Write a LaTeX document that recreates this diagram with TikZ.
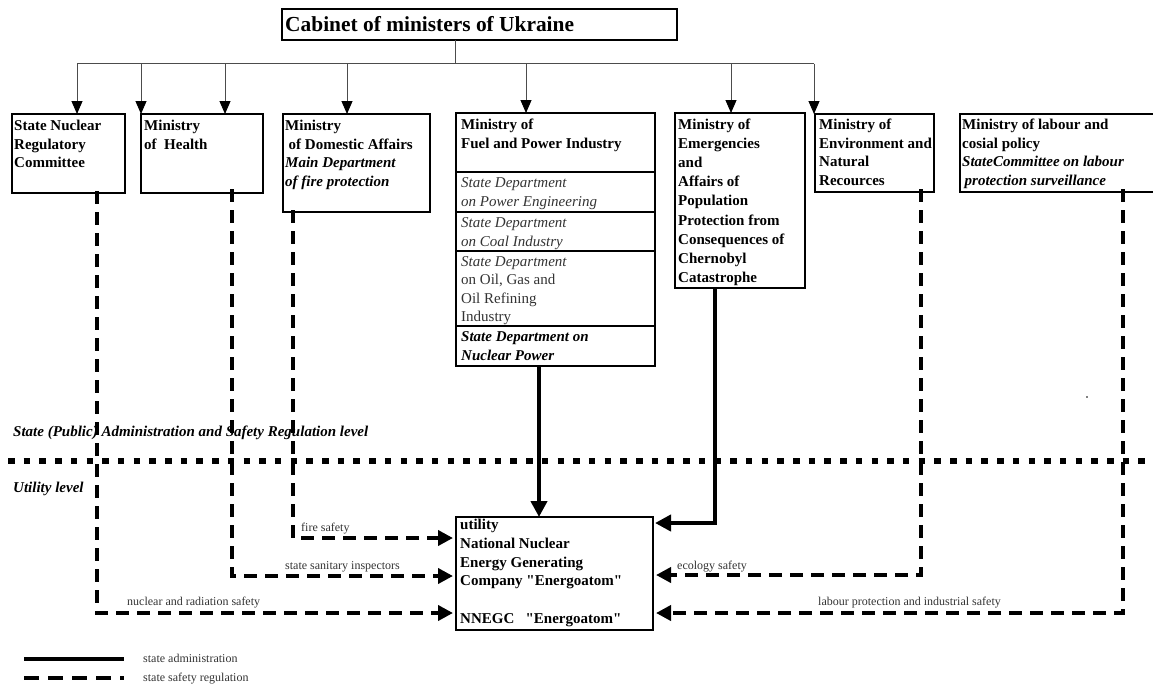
\documentclass[tikz,border=0pt]{standalone}
\usepackage{fontspec}
\setmainfont{Liberation Serif}
\newfontfamily\plainqf{Liberation Serif}
\newcommand{\sqt}{{\plainqf\char"22}}
\usetikzlibrary{arrows.meta,calc}
\begin{document}
\begin{tikzpicture}[x=1pt,y=-1pt,
  boxst/.style={draw, line width=2.5pt, anchor=north west, inner sep=0pt, outer sep=0pt},
  btext/.style={anchor=base west, inner sep=0pt, align=left, font=\fontsize{15}{18.6}\selectfont\bfseries},
  itext/.style={anchor=base west, inner sep=0pt, align=left, text=black!80, font=\fontsize{15}{19}\selectfont\itshape},
  lvltext/.style={anchor=base west, inner sep=0pt, font=\fontsize{15}{18}\selectfont\bfseries\itshape},
  lbl/.style={anchor=base west, inner sep=0pt, text=black!80, font=\fontsize{12}{14}\selectfont},
  busline/.style={draw=black!70, line width=1pt},
  thinarr/.style={draw=black!70, line width=1pt, -{Triangle[length=13pt,width=11pt,color=black]}},
  admin/.style={line width=4pt, -{Triangle[length=16pt,width=16pt]}},
  safety/.style={line width=4pt, dash pattern=on 13pt off 8pt, -{Triangle[length=15pt,width=15pt]}},
  divider/.style={line width=2pt},
  levelsep/.style={line width=6.5pt, dash pattern=on 6.5pt off 9.2pt}
]
\useasboundingbox (0,0) rectangle (1153,686);

% Cabinet
\node[boxst, minimum width=395pt, minimum height=31pt] (cab) at (282,9) {};
\node[anchor=base west, inner sep=0pt, font=\fontsize{21.4}{24}\selectfont\bfseries] (cabt) at (285,31.5) {Cabinet of ministers of Ukraine};

% Ministry boxes (text nodes anchored at the baseline of their last line)
\node[boxst, minimum width=113pt, minimum height=79pt] (snrc) at (12,114) {};
\node[btext] (snrct) at (14,167.7) {State Nuclear\\Regulatory\\Committee};

\node[boxst, minimum width=122pt, minimum height=79pt] (health) at (141,114) {};
\node[btext] (healtht) at (144,149.1) {Ministry\\of\ \ Health};

\node[boxst, minimum width=147pt, minimum height=98pt] (dom) at (283,114) {};
\node[btext] (domt) at (285,186.3) {Ministry\\\hspace{3.5pt}of Domestic Affairs\\\textit{Main Department}\\\textit{of fire protection}};

\node[boxst, minimum width=199pt, minimum height=253pt] (fuel) at (456,113) {};
\node[btext] (fuelt) at (461,148.1) {Ministry of\\Fuel and Power Industry};
\coordinate (d1) at (456,172);
\coordinate (d2) at (456,212);
\coordinate (d3) at (456,251);
\coordinate (d4) at (456,326);
\draw[divider] (fuel.west |- d1) -- (fuel.east |- d1);
\draw[divider] (fuel.west |- d2) -- (fuel.east |- d2);
\draw[divider] (fuel.west |- d3) -- (fuel.east |- d3);
\draw[divider] (fuel.west |- d4) -- (fuel.east |- d4);
\node[itext] (sd1) at (461,206.5) {State Department\\on Power Engineering};
\node[itext] (sd2) at (461,246.5) {State Department\\on Coal Industry};
\node[itext, font=\fontsize{15}{18.3}\selectfont] (sd3) at (461,321.4) {\textit{State Department}\\on Oil, Gas and\\Oil Refining\\Industry};
\node[btext, font=\fontsize{15}{19}\selectfont\bfseries\itshape] (sd4) at (461,360.5) {State Department on\\Nuclear Power};

\node[boxst, minimum width=130pt, minimum height=175pt] (emer) at (675,113) {};
\node[btext, font=\fontsize{15}{19.1}\selectfont\bfseries] (emert) at (678,282.3) {Ministry of\\Emergencies\\and\\Affairs of\\Population\\Protection from\\Consequences of\\Chernobyl\\Catastrophe};

\node[boxst, minimum width=119pt, minimum height=78pt] (env) at (815,114) {};
\node[btext] (envt) at (819,185.3) {Ministry of\\Environment and\\Natural\\Recources};

\node[boxst, minimum width=195pt, minimum height=78pt] (lab) at (960,114) {};
\node[btext] (labt) at (962,185.3) {Ministry of labour and\\cosial policy\\\textit{StateCommittee on labour}\\\hspace{2.5pt}\textit{protection surveillance}};

% Utility box
\node[boxst, minimum width=197pt, minimum height=113pt] (util) at (456,517) {};
\node[btext, font=\fontsize{15}{18.8}\selectfont\bfseries] (utilt) at (460,623.5) {utility\\National Nuclear\\Energy Generating\\Company \sqt Energoatom\sqt\\[18.8pt]NNEGC\ \ \ \sqt Energoatom\sqt};

% Level texts
\node[lvltext] (lvl1) at (13,436) {State (Public) Administration and Safety Regulation level};
\node[lvltext] (lvl2) at (13,492) {Utility level};
\coordinate (sepL) at (8,461);
\coordinate (sepR) at (1153,461);
\draw[levelsep] (sepL) -- (sepR);
\fill (1087,397) circle (0.8pt);

% Bus from cabinet
\coordinate (busC) at (455,63.5);
\coordinate (b1) at (77,63.5);
\coordinate (b2) at (141,63.5);
\coordinate (b3) at (225,63.5);
\coordinate (b4) at (347,63.5);
\coordinate (b5) at (526,63.5);
\coordinate (b6) at (731,63.5);
\coordinate (b7) at (814,63.5);
\draw[busline] (cab.south -| busC) -- (busC);
\draw[busline] (b1) -- (b7);
\draw[thinarr] (b1) -- (b1 |- snrc.north);
\draw[thinarr] (b2) -- (b2 |- health.north);
\draw[thinarr] (b3) -- (b3 |- health.north);
\draw[thinarr] (b4) -- (b4 |- dom.north);
\draw[thinarr] (b5) -- (b5 |- fuel.north);
\draw[thinarr] (b6) -- (b6 |- emer.north);
\draw[thinarr] (b7) -- (b7 |- env.north);

% State administration (solid)
\coordinate (fx) at (539,0);
\coordinate (ex) at (715,523);
\draw[admin] (fuel.south -| fx) -- (util.north -| fx);
\draw[admin] (emer.south -| ex) |- ([xshift=2pt]util.east |- ex);

% Safety regulation (dashed)
\coordinate (s1) at (97,613);
\coordinate (s2) at (232,576);
\coordinate (s3) at (293,538);
\coordinate (s4) at (921,575);
\coordinate (s5) at (1123,613);
\draw[safety] ([yshift=2pt]snrc.south -| s1) |- ([xshift=-3pt]util.west |- s1);
\draw[safety] ([yshift=4pt]health.south -| s2) |- ([xshift=-3pt]util.west |- s2);
\draw[safety] ([yshift=2pt]dom.south -| s3) |- ([xshift=-3pt]util.west |- s3);
\draw[safety] ([yshift=3pt]env.south -| s4) |- ([xshift=3pt]util.east |- s4);
\draw[safety] ([yshift=3pt]lab.south -| s5) |- ([xshift=3pt]util.east |- s5);

% Connector labels
\node[lbl] (l1) at (301,531) {fire safety};
\node[lbl] (l2) at (285,569) {state sanitary inspectors};
\node[lbl] (l3) at (127,605) {nuclear and radiation safety};
\node[lbl] (l4) at (677,569) {ecology safety};
\node[lbl] (l5) at (818,605) {labour protection and industrial safety};

% Legend
\coordinate (lgA1) at (24,659);
\coordinate (lgA2) at (124,659);
\coordinate (lgB1) at (24,678);
\coordinate (lgB2) at (124,678);
\draw[line width=3.5pt] (lgA1) -- (lgA2);
\draw[line width=3.5pt, dash pattern=on 15pt off 9pt] (lgB1) -- (lgB2);
\node[lbl] (lgt1) at (143,662.5) {state administration};
\node[lbl] (lgt2) at (143,681.5) {state safety regulation};
\end{tikzpicture}
\end{document}
